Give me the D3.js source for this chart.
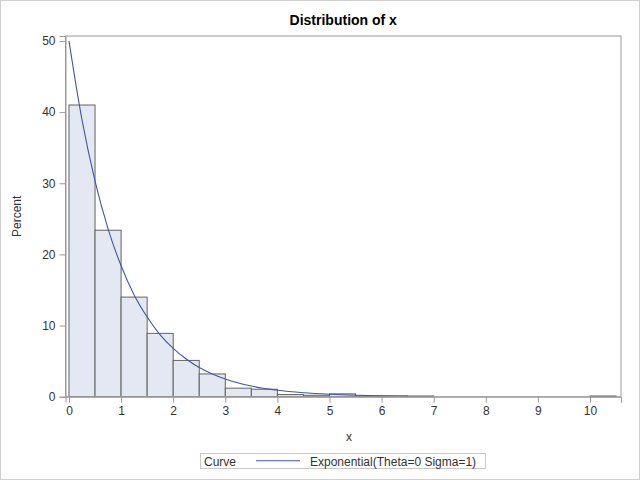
<!DOCTYPE html>
<html><head><meta charset="utf-8">
<script src="https://cdn.jsdelivr.net/npm/d3@7"></script>
<style>body{margin:0;background:#fff}svg{display:block;font-family:"Liberation Sans",Arial,sans-serif}</style>
</head><body><svg id="c" width="640" height="480"></svg>
<script>
// Histogram bins (lower edge) and percent heights
const binStarts = [0,0.5,1,1.5,2,2.5,3,3.5,4,4.5,5,5.5,6,6.5,7,7.5,8,8.5,9,9.5,10];
const binPercent = [41.0,23.4,14.0,8.9,5.1,3.2,1.2,1.05,0.3,0.2,0.4,0.1,0.1,0.1,0,0,0,0,0,0,0.1];
const binWidth = 0.5;
// Fitted exponential curve points
const curveX = [0,0.25,0.5,0.75,1,1.25,1.5,1.75,2,2.25,2.5,2.75,3,3.5,4,4.5,5,5.5,6,6.5];
const curveY = [50,38.9,30.3,23.6,18.4,14.3,11.2,8.7,6.8,5.3,4.1,3.2,2.5,1.5,0.9,0.55,0.34,0.2,0.12,0.08];
const xTicks = [0,1,2,3,4,5,6,7,8,9,10];
const yTicks = [0,10,20,30,40,50];
const title = "Distribution of x";
const xLabel = "x", yLabel = "Percent";
const legendTitle = "Curve", legendLabel = "Exponential(Theta=0 Sigma=1)";

const svg = d3.select("#c");
const L = 65.5, R = 621, T = 36, B = 396.7;
const x = d3.scaleLinear().domain([-0.067, 10.595]).range([L, R]);
const y = d3.scaleLinear().domain([0, 50.7]).range([B, T]);

svg.append("rect").attr("x",0.5).attr("y",0.5).attr("width",639).attr("height",479)
  .attr("fill","#fff").attr("stroke","#d0d0d0");

// bars
svg.append("g").selectAll("rect").data(binStarts.map((s,i)=>({s,p:binPercent[i]})).filter(d=>d.p>0))
  .join("rect")
  .attr("x",d=>x(d.s)).attr("width",d=>x(d.s+binWidth)-x(d.s))
  .attr("y",d=>y(d.p)).attr("height",d=>y(0)-y(d.p))
  .attr("fill","#E3E8F2").attr("stroke","#636363").attr("stroke-width",1);

// curve
const pts = curveX.map((v,i)=>[v,curveY[i]]);
svg.append("path").datum(pts)
  .attr("d", d3.line().x(d=>x(d[0])).y(d=>y(d[1])).curve(d3.curveMonotoneX))
  .attr("fill","none").attr("stroke","#4456A0").attr("stroke-width",1.1);

// frame
svg.append("rect").attr("x",L).attr("y",T).attr("width",R-L).attr("height",B-T)
  .attr("fill","none").attr("stroke","#9a9a9a");

// axes
const ax = svg.append("g").attr("transform",`translate(0,${B})`)
  .call(d3.axisBottom(x).tickValues(xTicks).tickSize(6).tickPadding(4).tickFormat(d3.format("d")));
const ay = svg.append("g").attr("transform",`translate(${L},0)`)
  .call(d3.axisLeft(y).tickValues(yTicks).tickSize(6).tickPadding(4).tickFormat(d3.format("d")));
[ax,ay].forEach(g=>{
  g.select(".domain").attr("stroke","#9a9a9a");
  g.selectAll(".tick line").attr("stroke","#9a9a9a");
  g.selectAll(".tick text").attr("fill","#333").attr("font-size",12).attr("font-family","Liberation Sans, Arial, sans-serif");
});

// title and labels
svg.append("text").attr("x",(L+R)/2).attr("y",25).attr("text-anchor","middle")
  .attr("font-size",14).attr("font-weight","bold").attr("fill","#000").text(title);
svg.append("text").attr("x",349).attr("y",441).attr("text-anchor","middle")
  .attr("font-size",12).attr("fill","#333").text(xLabel);
svg.append("text").attr("transform",`translate(21,${(T+B)/2}) rotate(-90)`).attr("text-anchor","middle")
  .attr("font-size",12).attr("fill","#333").text(yLabel);

// legend
const lg = svg.append("g");
lg.append("rect").attr("x",200.5).attr("y",453.5).attr("width",285).attr("height",15)
  .attr("fill","#fff").attr("stroke","#c8c8c8");
lg.append("text").attr("x",204).attr("y",465.5).attr("font-size",12).attr("fill","#333").text(legendTitle);
lg.append("line").attr("x1",256).attr("x2",300).attr("y1",460.7).attr("y2",460.7)
  .attr("stroke","#4456A0").attr("stroke-width",1.1);
lg.append("text").attr("x",310).attr("y",465.5).attr("font-size",12).attr("fill","#333").text(legendLabel);
</script></body></html>
